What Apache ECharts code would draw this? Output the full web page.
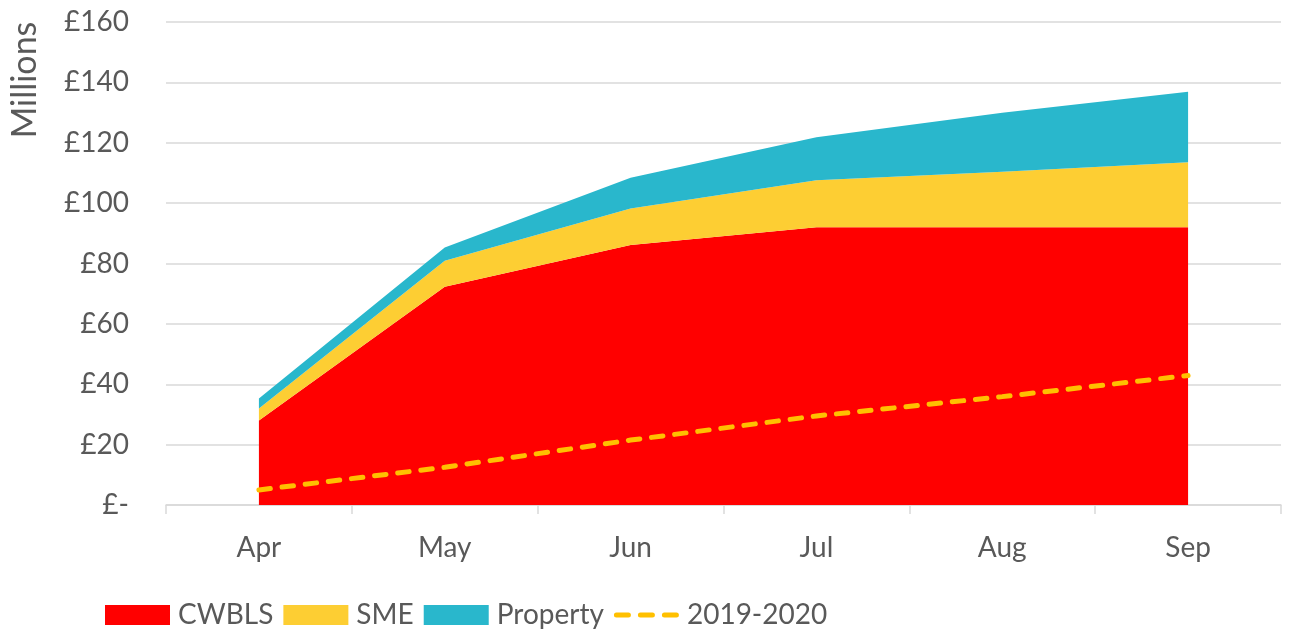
<!DOCTYPE html>
<html>
<head>
<meta charset="utf-8">
<script src="https://cdn.jsdelivr.net/npm/echarts@6/dist/echarts.min.js"></script>
<style>
    html, body { margin: 0; padding: 0; background: #fff; }
    #chart { width: 1290px; height: 632px; }
</style>
</head>
<body>
<div id="chart"></div>
<script>
// 数据
var months = ['Apr', 'May', 'Jun', 'Jul', 'Aug', 'Sep'];
var cwbls = [28, 72.3, 86.1, 92, 92, 92];
var sme = [4, 8.6, 12.1, 15.6, 18.4, 21.5];
var property = [3.3, 4.4, 10.2, 14.2, 19.5, 23.4];
var lastYear = [5, 12.5, 21.5, 29.5, 35.9, 42.9];
var yTicks = [0, 20, 40, 60, 80, 100, 120, 140, 160];

var font = 'Lato, "Open Sans", sans-serif';
var grey = '#595959';

// 图例里的虚线图标（三段圆头短线）
var dashIcon = 'path://M0,0L0,0M65,20L65,20' +
    'M2.5,7.5h12a2.5,2.5 0 0 1 0,5h-12a2.5,2.5 0 0 1 0,-5z' +
    'M26.5,7.5h12a2.5,2.5 0 0 1 0,5h-12a2.5,2.5 0 0 1 0,-5z' +
    'M50.5,7.5h12a2.5,2.5 0 0 1 0,5h-12a2.5,2.5 0 0 1 0,-5z';

var chart = echarts.init(document.getElementById('chart'));

function areaSeries(name, data, color) {
    return {
        name: name,
        type: 'line',
        stack: 'total',
        data: data,
        symbol: 'none',
        silent: true,
        lineStyle: { width: 0 },
        itemStyle: { color: color },
        areaStyle: { color: color, opacity: 1 }
    };
}

var option = {
    animation: false,
    grid: { left: 166, right: 9, top: 22, bottom: 127 },
    graphic: [{
        type: 'text',
        x: 25,
        y: 80,
        rotation: Math.PI / 2,
        style: {
            text: 'Millions',
            font: '34px ' + font,
            fill: grey,
            align: 'center',
            verticalAlign: 'middle'
        }
    }],
    legend: {
        left: 105,
        top: 601,
        padding: 0,
        itemWidth: 65,
        itemHeight: 20,
        itemGap: 10,
        textStyle: { fontFamily: font, fontSize: 28, color: grey, padding: [0, 0, 0, 3] },
        data: [
            { name: 'CWBLS', icon: 'rect' },
            { name: 'SME', icon: 'rect' },
            { name: 'Property', icon: 'rect' },
            { name: '2019-2020', icon: dashIcon, itemStyle: { color: '#FFC000' } }
        ]
    },
    xAxis: {
        type: 'category',
        data: months,
        boundaryGap: true,
        axisLine: { lineStyle: { color: '#d9d9d9', width: 1.5 } },
        axisTick: { show: true, length: 9, lineStyle: { color: '#d9d9d9', width: 1.5 } },
        axisLabel: { fontFamily: font, fontSize: 28, color: grey, margin: 29 }
    },
    yAxis: {
        type: 'value',
        min: yTicks[0],
        max: yTicks[yTicks.length - 1],
        interval: 20,
        axisLine: { show: false },
        axisTick: { show: false },
        splitLine: { lineStyle: { color: '#d9d9d9', width: 1.5 } },
        axisLabel: {
            fontFamily: font,
            fontSize: 28,
            color: grey,
            margin: 37,
            formatter: function (v) { return v === 0 ? '£-' : '£' + v; }
        }
    },
    series: [
        areaSeries('CWBLS', cwbls, '#FF0000'),
        areaSeries('SME', sme, '#FDCE33'),
        areaSeries('Property', property, '#29B7CC'),
        {
            name: '2019-2020',
            type: 'line',
            data: lastYear,
            symbol: 'none',
            z: 5,
            itemStyle: { color: '#FFC000' },
            lineStyle: { color: '#FFC000', width: 5, type: [11.5, 11.8], cap: 'round' }
        }
    ]
};

chart.setOption(option);
</script>
</body>
</html>
